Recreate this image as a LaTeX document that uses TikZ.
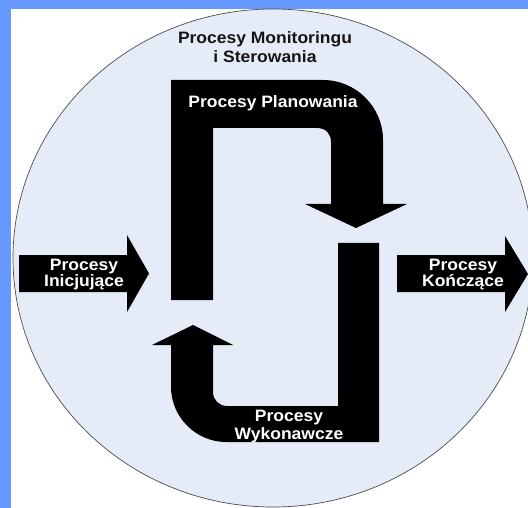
\documentclass[tikz,border=0pt]{standalone}
\usepackage{fontspec}
\setmainfont{Liberation Sans}
\usepackage{graphicx}
\definecolor{bgblue}{HTML}{6699FF}
\definecolor{disc}{HTML}{E6ECF7}
\newcommand{\lblx}[1]{\scalebox{1.06}[1]{#1}}
\tikzset{
  blockarrow/.style={fill=black, draw=none},
  lbl/.style={anchor=base, inner sep=0pt, font=\fontsize{16.5}{19}\selectfont\bfseries, text=white},
  toplbl/.style={lbl, text=black!92},
}
\begin{document}
\begin{tikzpicture}[x=1pt,y=-1pt]
\useasboundingbox (0,0) rectangle (528,508);
\clip (0,0) rectangle (528,508);
\fill[white] (0,0) rectangle (528,508);
\fill[bgblue] (0,0) rectangle (528,9);
\fill[bgblue] (0,0) rectangle (11,508);
\draw[draw=black!70, line width=0.7pt, fill=disc] (273,258) ellipse [x radius=260pt, y radius=249pt];

% Inicjujace arrow
\fill[blockarrow] (19,255) -- (127,255) -- (127,235) -- (149,273.5) -- (127,312) -- (127,292) -- (19,292) -- cycle;
% Konczace arrow
\fill[blockarrow] (397,255) -- (505,255) -- (505,236) -- (528,274) -- (505,312) -- (505,292) -- (397,292) -- cycle;
% Planowania arrow
\fill[blockarrow] (171,300) -- (171,80) -- (323,80)
  .. controls (356,80) and (383,107) .. (383,140)
  -- (383,204) -- (407,204) -- (356,228) -- (305,204) -- (331,204)
  -- (331,142) .. controls (331,134) and (326,128) .. (317,128)
  -- (213,128) -- (213,300) -- cycle;
% Wykonawcze arrow
\fill[blockarrow] (338,243) -- (379,243) -- (379,442) -- (226,442)
  .. controls (196,442) and (171,417) .. (171,387)
  -- (171,345) -- (152,345) -- (193,325) -- (233,345) -- (213,345)
  -- (213,392) .. controls (213,400) and (219,406) .. (227,406)
  -- (338,406) -- cycle;

% labels
\node[toplbl] (mon1) at (265,44) {\lblx{Procesy Monitoringu}};
\node[toplbl] (mon2) at (265,62.5) {\lblx{i Sterowania}};
\node[lbl] (plan) at (273,108) {\lblx{Procesy Planowania}};
\node[lbl] (ini1) at (84,270) {\lblx{Procesy}};
\node[lbl] (ini2) at (84,287) {\lblx{Inicjujące}};
\node[lbl] (kon1) at (463,270) {\lblx{Procesy}};
\node[lbl] (kon2) at (463,287) {\lblx{Kończące}};
\node[lbl] (wyk1) at (289,421.5) {\lblx{Procesy}};
\node[lbl] (wyk2) at (289,439) {\lblx{Wykonawcze}};
\end{tikzpicture}
\end{document}
